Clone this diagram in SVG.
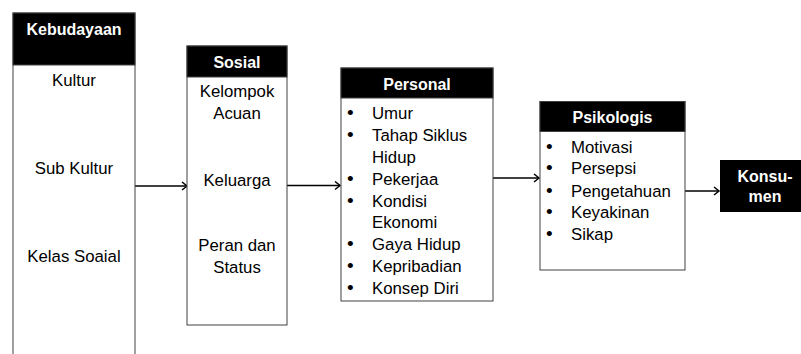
<svg xmlns="http://www.w3.org/2000/svg" width="801" height="354" viewBox="0 0 801 354">
<style>
.box{fill:#fff;stroke:#404040;stroke-width:1}
.hd{fill:#000;stroke:#404040;stroke-width:1}
.ht{font-family:"Liberation Sans",Arial,sans-serif;font-size:16px;font-weight:bold;fill:#fff;text-anchor:middle}
.t{font-family:"Liberation Sans",Arial,sans-serif;font-size:16.8px;fill:#000}
.c{text-anchor:middle}
.b{font-size:19px}
.cn{stroke:#000;stroke-width:1.5;fill:none}
</style>
<defs>
<marker id="ah" markerWidth="10" markerHeight="10" refX="8" refY="5" orient="auto" markerUnits="userSpaceOnUse">
<path d="M3,1 L8,5 L3,9" fill="none" stroke="#000" stroke-width="1.5"/>
</marker>
</defs>
<g id="connectors">
<line class="cn" x1="135" y1="186" x2="187" y2="186" marker-end="url(#ah)"/>
<line class="cn" x1="287" y1="185.5" x2="340" y2="185.5" marker-end="url(#ah)"/>
<line class="cn" x1="493" y1="178" x2="539" y2="178" marker-end="url(#ah)"/>
<line class="cn" x1="685" y1="191" x2="719" y2="191" marker-end="url(#ah)"/>
</g>
<g id="kebudayaan">
<rect class="box" x="13" y="13" width="122" height="350"/>
<rect class="hd" x="13" y="13" width="122" height="52"/>
<text class="ht" x="74" y="35">Kebudayaan</text>
<text class="t c" x="74" y="86">Kultur</text>
<text class="t c" x="74" y="174">Sub Kultur</text>
<text class="t c" x="74" y="262">Kelas Soaial</text>
</g>
<g id="sosial">
<rect class="box" x="187" y="46" width="100" height="279"/>
<rect class="hd" x="187" y="46" width="100" height="31"/>
<text class="ht" x="237" y="67.5">Sosial</text>
<text class="t c" x="237" y="97">Kelompok</text>
<text class="t c" x="237" y="119">Acuan</text>
<text class="t c" x="237" y="186">Keluarga</text>
<text class="t c" x="237" y="251">Peran dan</text>
<text class="t c" x="237" y="273">Status</text>
</g>
<g id="personal">
<rect class="box" x="341" y="68" width="152" height="233"/>
<rect class="hd" x="341" y="68" width="152" height="30"/>
<text class="ht" x="417" y="89.5">Personal</text>
<g class="t">
<text class="b" x="347" y="119">•</text><text x="372" y="119">Umur</text>
<text class="b" x="347" y="141">•</text><text x="372" y="141">Tahap Siklus</text>
<text x="372" y="163">Hidup</text>
<text class="b" x="347" y="184.5">•</text><text x="372" y="184.5">Pekerjaa</text>
<text class="b" x="347" y="206.5">•</text><text x="372" y="206.5">Kondisi</text>
<text x="372" y="228">Ekonomi</text>
<text class="b" x="347" y="250">•</text><text x="372" y="250">Gaya Hidup</text>
<text class="b" x="347" y="272">•</text><text x="372" y="272">Kepribadian</text>
<text class="b" x="347" y="294">•</text><text x="372" y="294">Konsep Diri</text>
</g>
</g>
<g id="psikologis">
<rect class="box" x="540" y="101.5" width="145" height="168.5"/>
<rect class="hd" x="540" y="101.5" width="145" height="30"/>
<text class="ht" x="612.5" y="123">Psikologis</text>
<g class="t">
<text class="b" x="546" y="152.5">•</text><text x="571" y="152.5">Motivasi</text>
<text class="b" x="546" y="174">•</text><text x="571" y="174">Persepsi</text>
<text class="b" x="546" y="196.5">•</text><text x="571" y="196.5">Pengetahuan</text>
<text class="b" x="546" y="218">•</text><text x="571" y="218">Keyakinan</text>
<text class="b" x="546" y="240">•</text><text x="571" y="240">Sikap</text>
</g>
</g>
<g id="konsumen">
<rect x="720" y="160" width="81" height="52" fill="#000"/>
<text class="ht" x="765" y="182">Konsu-</text>
<text class="ht" x="765" y="202">men</text>
</g>
</svg>
